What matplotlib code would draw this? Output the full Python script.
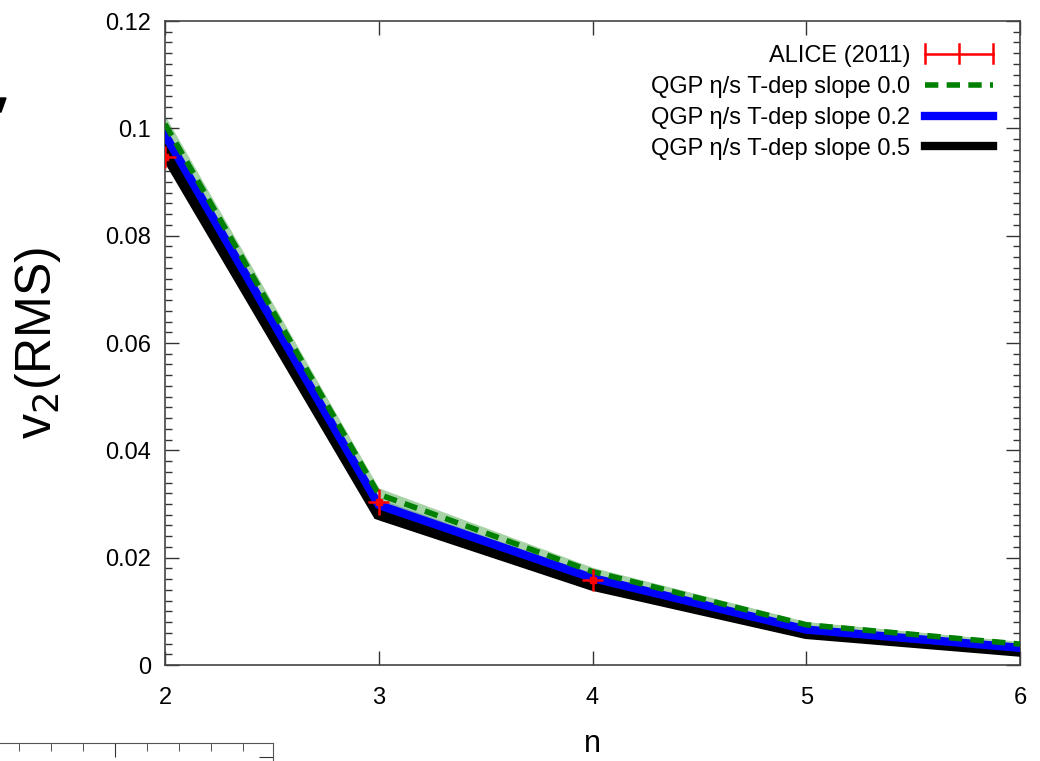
import numpy as np
import matplotlib
matplotlib.use("Agg")
import matplotlib.pyplot as plt
from matplotlib.ticker import MultipleLocator, FixedLocator
from matplotlib.legend_handler import HandlerBase
from matplotlib.lines import Line2D

plt.rcParams['font.family'] = ['Liberation Sans', 'DejaVu Sans']

# harmonic order
n = [2, 3, 4, 5, 6]

# ALICE (2011) data with errors
alice_n = [2, 3, 4]
alice_v = [0.0947, 0.0304, 0.0158]
alice_err = [0.0020, 0.0024, 0.0020]

# QGP eta/s T-dependent slope curves
slope00 = [0.1008, 0.0318, 0.0174, 0.0075, 0.0039]
slope02 = [0.0988, 0.0298, 0.0162, 0.0066, 0.0032]
slope05 = [0.0958, 0.0282, 0.0150, 0.0060, 0.0027]
band_half = [0.0016, 0.0012, 0.0008, 0.0006, 0.0005]


class ErrKeyHandler(HandlerBase):
    # gnuplot style errorbar key: line with end caps and a centre tick
    def create_artists(self, legend, orig, xd, yd, w, h, fs, trans):
        y = h / 2 - yd
        x0, x1 = -xd, -xd + w
        xm = (x0 + x1) / 2
        c = 0.55 * h
        arts = [Line2D([x0, x1], [y, y], color='red', lw=1.8)]
        for xx in (x0, xm, x1):
            arts.append(Line2D([xx, xx], [y - c, y + c], color='red', lw=1.8))
        for a in arts:
            a.set_transform(trans)
        return arts


fig = plt.figure(figsize=(10.4, 7.61), dpi=100)
ax = fig.add_axes([165/1040, 96/761, 855/1040, 644/761])

lo = np.array(band_half)
for vals, c, a in [(slope05, 'black', 0.3), (slope02, 'blue', 0.25), (slope00, 'green', 0.35)]:
    v = np.array(vals)
    ax.fill_between(n, v - lo, v + lo, color=c, alpha=a, lw=0)

ax.plot(n, slope05, color='black', lw=9, solid_joinstyle='miter', zorder=3)
ax.plot(n, slope02, color='blue', lw=6, zorder=4)
ax.plot(n, slope00, color='green', lw=4, ls=(0, (2.4, 1.5)), zorder=5)
ax.errorbar(alice_n, alice_v, yerr=alice_err, xerr=0.05, fmt='none',
            ecolor='red', elinewidth=1.8, capsize=0, zorder=6)
ax.plot(alice_n, alice_v, ls='none', marker='s', ms=5, color='red', zorder=6)

ax.set_xlim(2, 6)
ax.set_ylim(0, 0.12)
ax.xaxis.set_major_locator(MultipleLocator(1))
ax.set_yticks([0, 0.02, 0.04, 0.06, 0.08, 0.1, 0.12])
ax.set_yticklabels(['0', '0.02', '0.04', '0.06', '0.08', '0.1', '0.12'])
ax.yaxis.set_minor_locator(MultipleLocator(0.002))
ax.tick_params(which='both', direction='in', top=True, right=True, labelsize=17,
               color='#333333')
ax.tick_params(which='major', length=10, width=1)
ax.tick_params(which='minor', length=5, width=1)
ax.tick_params(axis='x', pad=16)
ax.tick_params(axis='y', pad=10)
for s in ax.spines.values():
    s.set_color('#444444')
    s.set_linewidth(1.2)

ax.set_xlabel('n', fontsize=22, labelpad=14)
ax.set_ylabel('v$_2$(RMS)', fontsize=36, labelpad=30)

key = object()
handles = [key,
           Line2D([], [], color='green', lw=4, ls=(0, (2.4, 1.5))),
           Line2D([], [], color='blue', lw=6),
           Line2D([], [], color='black', lw=6)]
labels = ['ALICE (2011)', 'QGP η/s T-dep slope 0.0',
          'QGP η/s T-dep slope 0.2', 'QGP η/s T-dep slope 0.5']
ax.legend(handles, labels, handler_map={key: ErrKeyHandler()}, loc='upper right',
          frameon=False, markerfirst=False, fontsize=17, handlelength=2.9,
          handletextpad=0.6, labelspacing=0.38, borderaxespad=0.2,
          bbox_to_anchor=(0.985, 0.985))

# fragment of a neighbouring panel at bottom left
frag = fig.add_axes([0, 0, 273/1040, 18/761])
frag.set_xlim(0, 273)
frag.set_ylim(0, 18)
for side in ['left', 'bottom']:
    frag.spines[side].set_visible(False)
frag.spines['top'].set_color('#555555')
frag.spines['right'].set_color('#555555')
frag.xaxis.set_ticks_position('top')
frag.xaxis.set_major_locator(FixedLocator([115]))
frag.xaxis.set_minor_locator(FixedLocator([19, 51, 83, 147, 179, 211, 243]))
frag.yaxis.set_ticks_position('right')
frag.yaxis.set_major_locator(FixedLocator([4]))
frag.tick_params(which='both', direction='in', labeltop=False, labelbottom=False,
                 labelright=False, labelleft=False, color='#333333')
frag.tick_params(which='major', length=10)
frag.tick_params(which='minor', length=6)

# fragment of a glyph at the left edge
fig.patches.append(plt.Polygon([[0, 663/761], [6/1040, 663/761], [1/1040, 649/761], [0, 649/761]],
                               closed=True, transform=fig.transFigure, color='black'))

fig.savefig('out.png', dpi=100)
